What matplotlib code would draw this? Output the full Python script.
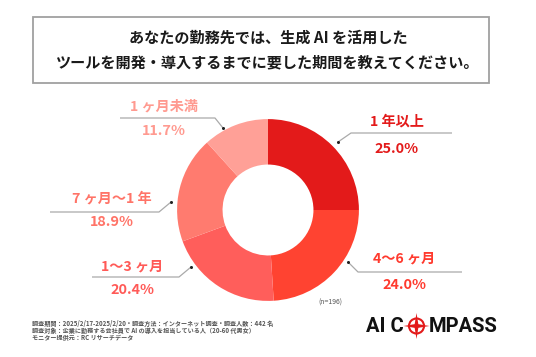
import matplotlib
matplotlib.use("Agg")
import matplotlib.pyplot as plt
from matplotlib.patches import Rectangle, Circle, Polygon
import numpy as np

plt.rcParams['font.family'] = ['Noto Sans CJK JP', 'DejaVu Sans']

title_lines = ["あなたの勤務先では、生成 AI を活用した",
               "ツールを開発・導入するまでに要した期間を教えてください。"]
categories = ["1 年以上", "4〜6 ヶ月", "1〜3 ヶ月", "7 ヶ月〜1 年", "1 ヶ月未満"]
values = [25.0, 24.0, 20.4, 18.9, 11.7]
colors = ["#E31A1A", "#FF4331", "#FF5E5B", "#FF7B6F", "#FFA097"]
text_colors = ["#E31A1A", "#FF3A2E", "#FF5A57", "#FF7468", "#FF9A90"]
n_label = "(n=196)"
footer_lines = ["調査期間：2025/2/17-2025/2/20・調査方法：インターネット調査・調査人数：442 名",
                "調査対象：企業に勤務する会社員で AI の導入を担当している人（20-60 代男女）",
                "モニター提供元：RC リサーチデータ"]

W, H = 536, 357
fig = plt.figure(figsize=(W / 100, H / 100), dpi=100)
fig.patch.set_facecolor("white")

ov = fig.add_axes([0, 0, 1, 1])
ov.set_xlim(0, W)
ov.set_ylim(H, 0)
ov.axis("off")

# title box
ov.add_patch(Rectangle((33, 17), 456, 66, fill=False, edgecolor="#A0A0A0", lw=1.3))
ov.text(268, 38, title_lines[0], ha="center", va="center", fontsize=10.9,
        fontweight="bold", color="#1A1A1A")
ov.text(268, 62, title_lines[1], ha="center", va="center", fontsize=10.9,
        fontweight="bold", color="#1A1A1A")

# donut
cx, cy, box = 268, 210, 200
pax = fig.add_axes([(cx - box / 2) / W, (H - cy - box / 2) / H, box / W, box / H])
pax.pie(values, colors=colors, startangle=90, counterclock=False,
        wedgeprops=dict(width=0.5, edgecolor="none"), radius=1.0)
pax.set_xlim(-1.1, 1.1)
pax.set_ylim(-1.1, 1.1)
pax.set_aspect("equal")
pax.axis("off")

# leader lines & labels (layout positions in pixels)
layout = [
    ((338, 142), (351, 133), 452, 397, 122, 149),
    ((348, 262), (358, 272), 462, 404, 259, 285),
    ((191, 267), (179, 277), 92, 132, 266, 290),
    ((171, 202), (159, 212), 50, 112, 199, 222),
    ((223, 128), (215, 118), 120, 164, 106, 131),
]
for cat, val, tc, (dot, elb, lend, lx, ly, py) in zip(categories, values, text_colors, layout):
    ov.plot([dot[0], elb[0], lend], [dot[1], elb[1], elb[1]], color="#AAAAAA", lw=0.9,
            solid_capstyle="butt")
    ov.plot([dot[0]], [dot[1]], marker="o", ms=2.2, color="#222222", mec="none")
    ov.text(lx, ly, cat, ha="center", va="center", fontsize=10.2, fontweight="bold", color=tc)
    ov.text(lx, py, f"{val:.1f}%", ha="center", va="center", fontsize=10.4,
            fontweight="bold", color=tc)

ov.text(330, 303, n_label, ha="center", va="center", fontsize=5.0, color="#555555")

for i, line in enumerate(footer_lines):
    ov.text(32, 323 + i * 7.2, line, ha="left", va="center", fontsize=4.4,
            color="#555555", fontweight="bold")

# logo
ov.text(404, 327, "AI C", ha="right", va="center", fontsize=14.5, fontweight="bold",
        color="#111111", family=["Roboto", "DejaVu Sans"])
ov.text(429, 327, "MPASS", ha="left", va="center", fontsize=14.5, fontweight="bold",
        color="#111111", family=["Roboto", "DejaVu Sans"])
lcx, lcy = 416.5, 326
ov.add_patch(Circle((lcx, lcy), 7.5, fill=False, edgecolor="#E31A1A", lw=1.5))
star = []
for k in range(8):
    ang = np.pi / 2 + k * np.pi / 4
    r = 13 if k % 2 == 0 else 2.6
    star.append((lcx + r * np.cos(ang), lcy - r * np.sin(ang)))
ov.add_patch(Polygon(star, closed=True, facecolor="#E31A1A", edgecolor="none"))

fig.savefig("out.png", dpi=100, facecolor="white")
